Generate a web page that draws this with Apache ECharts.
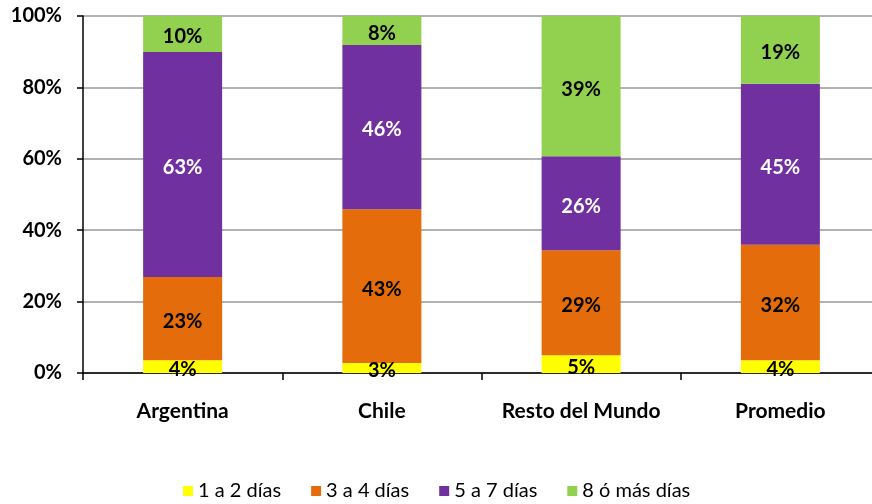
<!DOCTYPE html>
<html><head><meta charset="utf-8">
<script src="https://cdn.jsdelivr.net/npm/echarts@6/dist/echarts.min.js"></script>
<style>html,body{margin:0;padding:0;background:#fff}#c{width:872px;height:504px}</style>
</head><body><div id="c"></div>
<script>
const categories = ['Argentina', 'Chile', 'Resto del Mundo', 'Promedio'];
const seriesNames = ['1 a 2 días', '3 a 4 días', '5 a 7 días', '8 ó más días'];
const d1a2 = [3.6, 2.8, 5.0, 3.6];
const d3a4 = [23.3, 43.1, 29.4, 32.3];
const d5a7 = [63.0, 46.0, 26.3, 45.1];
const d8mas = [10.1, 8.1, 39.3, 19.0];
const yTicks = [0, 20, 40, 60, 80, 100];
const colors = ['#FFFF00', '#E46C0A', '#7030A0', '#92D050'];
const labelColors = ['#000', '#000', '#fff', '#000'];
const FONT = 'Lato';

const chart = echarts.init(document.getElementById('c'));
const allData = [d1a2, d3a4, d5a7, d8mas];
chart.setOption({
  animation: false,
  textStyle: { fontFamily: FONT },
  grid: { left: 83, top: 16, width: 797, height: 357, containLabel: false, outerBoundsMode: 'none' },
  legend: {
    top: 476, left: 178,
    itemWidth: 10, itemHeight: 10, itemGap: 30,
    icon: 'rect',
    textStyle: { fontFamily: FONT, fontSize: 20, color: '#000' },
    data: seriesNames
  },
  xAxis: {
    type: 'category', data: categories,
    axisLine: { lineStyle: { color: '#000', width: 1.5 } },
    axisTick: { show: true, interval: 0, length: 7, lineStyle: { color: '#000', width: 1.5 } },
    axisLabel: { interval: 0, hideOverlap: false, margin: 28, fontFamily: FONT, fontWeight: 'bold', fontSize: 21, color: '#000' }
  },
  yAxis: {
    type: 'value', min: 0, max: 100, interval: 20,
    axisLine: { show: true, lineStyle: { color: '#000', width: 1.5 } },
    axisTick: { show: true, length: 6, lineStyle: { color: '#000', width: 1.5 } },
    splitLine: { lineStyle: { color: '#999', width: 1.5 } },
    axisLabel: { margin: 21, fontFamily: FONT, fontWeight: 'bold', fontSize: 20, color: '#000',
      formatter: v => yTicks.includes(v) ? v + '%' : '' }
  },
  series: seriesNames.map((name, i) => ({
    name, type: 'bar', stack: 'total', barWidth: 79,
    data: allData[i],
    itemStyle: { color: colors[i] },
    label: {
      show: true, position: 'inside', fontFamily: FONT, fontWeight: 'bold', fontSize: 20,
      color: labelColors[i], offset: [0, 3],
      formatter: p => Math.round(p.value) + '%'
    },
    z: 3
  }))
});
</script></body></html>
